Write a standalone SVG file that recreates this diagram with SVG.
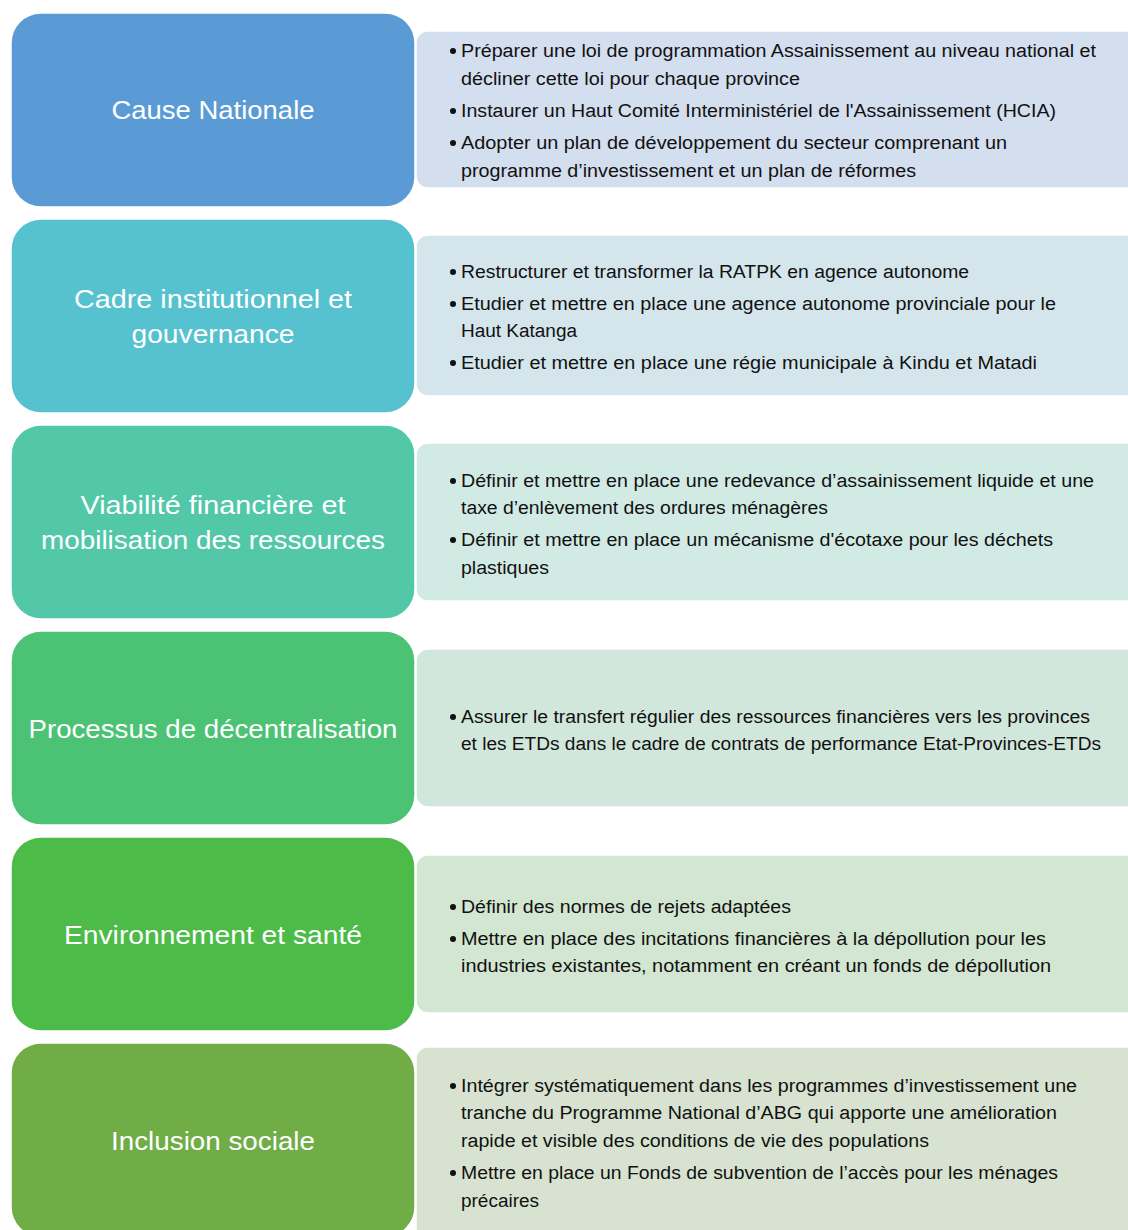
<svg xmlns="http://www.w3.org/2000/svg" width="1128" height="1230" viewBox="0 0 1128 1230">
<style>
.lb{stroke:#fff;stroke-width:1.5}
.rb{stroke:#fff;stroke-width:1.5}
.lt{font-family:"Liberation Sans",Arial,sans-serif;font-size:26px;fill:#fff;text-anchor:middle}
.rt{font-family:"Liberation Sans",Arial,sans-serif;font-size:18px;fill:#111}
.bu{fill:#111}
</style>
<rect width="1128" height="1230" fill="#fff"/>
<g id="row1">
<rect class="rb" x="416" y="31" width="724" height="157" rx="12" fill="#D3DEEF"/>
<rect class="lb" x="11" y="13" width="404" height="194" rx="30" fill="#5B9BD5"/>
<text class="lt" x="213" y="119" textLength="203" lengthAdjust="spacingAndGlyphs">Cause Nationale</text>
<circle class="bu" cx="453" cy="51" r="3"/>
<text class="rt" x="461" y="57" textLength="635" lengthAdjust="spacingAndGlyphs">Préparer une loi de programmation Assainissement au niveau national et</text>
<text class="rt" x="461" y="85" textLength="339" lengthAdjust="spacingAndGlyphs">décliner cette loi pour chaque province</text>
<circle class="bu" cx="453" cy="111" r="3"/>
<text class="rt" x="461" y="117" textLength="595" lengthAdjust="spacingAndGlyphs">Instaurer un Haut Comité Interministériel de l'Assainissement (HCIA)</text>
<circle class="bu" cx="453" cy="143" r="3"/>
<text class="rt" x="461" y="149" textLength="546" lengthAdjust="spacingAndGlyphs">Adopter un plan de développement du secteur comprenant un</text>
<text class="rt" x="461" y="177" textLength="455" lengthAdjust="spacingAndGlyphs">programme d’investissement et un plan de réformes</text>
</g>
<g id="row2">
<rect class="rb" x="416" y="235" width="724" height="161" rx="12" fill="#D4E6EC"/>
<rect class="lb" x="11" y="219" width="404" height="194" rx="30" fill="#56C2CF"/>
<text class="lt" x="213" y="308" textLength="278" lengthAdjust="spacingAndGlyphs">Cadre institutionnel et</text>
<text class="lt" x="213" y="343" textLength="163" lengthAdjust="spacingAndGlyphs">gouvernance</text>
<circle class="bu" cx="453" cy="272" r="3"/>
<text class="rt" x="461" y="278" textLength="508" lengthAdjust="spacingAndGlyphs">Restructurer et transformer  la RATPK en agence autonome</text>
<circle class="bu" cx="453" cy="304" r="3"/>
<text class="rt" x="461" y="310" textLength="595" lengthAdjust="spacingAndGlyphs">Etudier et mettre en place une agence autonome provinciale pour le</text>
<text class="rt" x="461" y="337" textLength="116" lengthAdjust="spacingAndGlyphs">Haut Katanga</text>
<circle class="bu" cx="453" cy="363" r="3"/>
<text class="rt" x="461" y="369" textLength="576" lengthAdjust="spacingAndGlyphs">Etudier et mettre en place une régie municipale à Kindu et Matadi</text>
</g>
<g id="row3">
<rect class="rb" x="416" y="443" width="724" height="158" rx="12" fill="#D2EAE4"/>
<rect class="lb" x="11" y="425" width="404" height="194" rx="30" fill="#52C8A9"/>
<text class="lt" x="213" y="514" textLength="265" lengthAdjust="spacingAndGlyphs">Viabilité financière et</text>
<text class="lt" x="213" y="549" textLength="344" lengthAdjust="spacingAndGlyphs">mobilisation des ressources</text>
<circle class="bu" cx="453" cy="481" r="3"/>
<text class="rt" x="461" y="487" textLength="633" lengthAdjust="spacingAndGlyphs">Définir et mettre en place une redevance d’assainissement  liquide et une</text>
<text class="rt" x="461" y="514" textLength="367" lengthAdjust="spacingAndGlyphs">taxe d’enlèvement  des ordures ménagères</text>
<circle class="bu" cx="453" cy="540" r="3"/>
<text class="rt" x="461" y="546" textLength="592" lengthAdjust="spacingAndGlyphs">Définir et mettre en place un mécanisme d'écotaxe pour les déchets</text>
<text class="rt" x="461" y="574" textLength="88" lengthAdjust="spacingAndGlyphs">plastiques</text>
</g>
<g id="row4">
<rect class="rb" x="416" y="649" width="724" height="158" rx="12" fill="#D2E7DC"/>
<rect class="lb" x="11" y="631" width="404" height="194" rx="30" fill="#4CC274"/>
<text class="lt" x="213" y="738" textLength="369" lengthAdjust="spacingAndGlyphs">Processus de décentralisation</text>
<circle class="bu" cx="453" cy="717" r="3"/>
<text class="rt" x="461" y="723" textLength="629" lengthAdjust="spacingAndGlyphs">Assurer le transfert régulier des ressources financières vers les provinces</text>
<text class="rt" x="461" y="750" textLength="640" lengthAdjust="spacingAndGlyphs">et les ETDs dans le cadre de contrats de performance  Etat-Provinces-ETDs</text>
</g>
<g id="row5">
<rect class="rb" x="416" y="855" width="724" height="158" rx="12" fill="#D3E6D2"/>
<rect class="lb" x="11" y="837" width="404" height="194" rx="30" fill="#4CBB48"/>
<text class="lt" x="213" y="944" textLength="298" lengthAdjust="spacingAndGlyphs">Environnement et santé</text>
<circle class="bu" cx="453" cy="907" r="3"/>
<text class="rt" x="461" y="913" textLength="330" lengthAdjust="spacingAndGlyphs">Définir des normes de rejets adaptées</text>
<circle class="bu" cx="453" cy="939" r="3"/>
<text class="rt" x="461" y="945" textLength="585" lengthAdjust="spacingAndGlyphs">Mettre en place des incitations financières à la dépollution pour les</text>
<text class="rt" x="461" y="972" textLength="590" lengthAdjust="spacingAndGlyphs">industries existantes, notamment en créant un fonds de dépollution</text>
</g>
<g id="row6">
<rect class="rb" x="416" y="1047" width="724" height="200" rx="12" fill="#D7E3D0"/>
<rect class="lb" x="11" y="1043" width="404" height="194" rx="30" fill="#70AD47"/>
<text class="lt" x="213" y="1150" textLength="204" lengthAdjust="spacingAndGlyphs">Inclusion sociale</text>
<circle class="bu" cx="453" cy="1086" r="3"/>
<text class="rt" x="461" y="1092" textLength="616" lengthAdjust="spacingAndGlyphs">Intégrer systématiquement dans les programmes d’investissement une</text>
<text class="rt" x="461" y="1119" textLength="596" lengthAdjust="spacingAndGlyphs">tranche du Programme National d’ABG qui apporte une amélioration</text>
<text class="rt" x="461" y="1147" textLength="468" lengthAdjust="spacingAndGlyphs">rapide et visible des conditions de vie des populations</text>
<circle class="bu" cx="453" cy="1173" r="3"/>
<text class="rt" x="461" y="1179" textLength="597" lengthAdjust="spacingAndGlyphs">Mettre en place un Fonds de subvention de l’accès pour les ménages</text>
<text class="rt" x="461" y="1207" textLength="78" lengthAdjust="spacingAndGlyphs">précaires</text>
</g>
<g id="connectors"></g>
</svg>
